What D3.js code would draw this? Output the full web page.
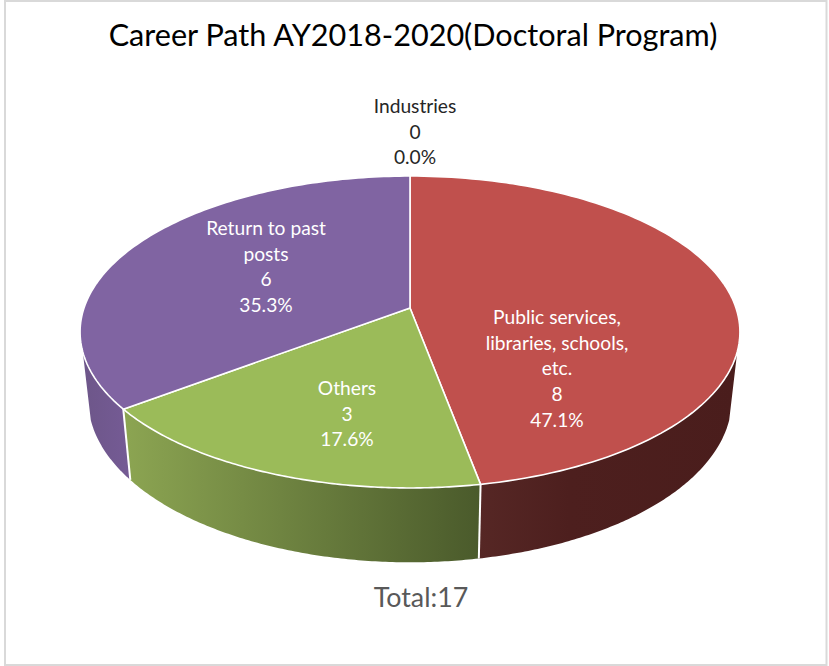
<!DOCTYPE html>
<html><head><meta charset="utf-8">
<script src="https://cdn.jsdelivr.net/npm/d3@7"></script>
<style>html,body{margin:0;padding:0;background:#fff}svg{display:block}text{font-family:Lato,Carlito,sans-serif}</style>
</head><body><div id="chart"></div>
<script>
const categories = ["Public services, libraries, schools, etc.", "Others", "Return to past posts", "Industries"];
const values = [8, 3, 6, 0];
const percents = ["47.1%", "17.6%", "35.3%", "0.0%"];
const labelLines = [["Public services,", "libraries, schools,", "etc."], ["Others"], ["Return to past", "posts"], ["Industries"]];
const topColors = ["#C0504D", "#9BBB59", "#8064A2", "#4F81BD"];
const titleText = "Career Path AY2018-2020(Doctoral Program)";
const totalText = "Total:17";

const W = 829, H = 666;
const labelAnchors = [[557, 318], [347, 389], [266, 229], [415, 107]];
const labelColors = ["#fff", "#fff", "#fff", "#262626"];
const wallStops = [
  [["0%", "#562725"], ["35%", "#4d1f1e"], ["100%", "#4a1d1c"]],
  [["0%", "#8ca552"], ["100%", "#4a5a2b"]],
  [["0%", "#6d5689"], ["100%", "#755b95"]],
  [["0%", "#4F81BD"], ["100%", "#4F81BD"]]
];

const svg = d3.select("#chart").append("svg").attr("width", W).attr("height", H);
svg.append("rect").attr("x", 5).attr("y", 1).attr("width", 821.5).attr("height", 664)
  .attr("fill", "#fff").attr("stroke", "#d9d9d9").attr("stroke-width", 2);

const arcs = d3.pie().sort(null).value(d => d).startAngle(0).endAngle(2 * Math.PI)(values);

// perspective projection of the unit disc on to the picture
const persp = -0.1538;
const cx = 410;
function proj(rimX, rimA, rimB) {
  return (r, t) => {
    const x = r * Math.sin(t), y = -r * Math.cos(t), w = 1 + persp * y;
    return [cx + rimX * x / w, (rimA * y + rimB) / w];
  };
}
const topP = proj(326, 104.9, 308);
const botP = proj(318, 101.5, 374.3);

const defs = svg.append("defs");
const visibleFrom = Math.PI / 2 + 0.28, visibleTo = 3 * Math.PI / 2 - 0.28;
const line = d3.line();
const samples = (a, b) => d3.range(0, 121).map(i => a + (b - a) * i / 120);

const wallG = svg.append("g");
arcs.forEach((d, i) => {
  const a = Math.max(d.startAngle, visibleFrom), b = Math.min(d.endAngle, visibleTo);
  if (b <= a) return;
  const ts = samples(a, b);
  const upper = ts.map(t => topP(1, t)), lower = ts.map(t => botP(1, t)).reverse();
  const pts = upper.concat(lower);
  const ex = d3.extent(pts, p => p[0]);
  const g = defs.append("linearGradient").attr("id", "wall" + i)
    .attr("gradientUnits", "userSpaceOnUse").attr("x1", ex[0]).attr("x2", ex[1]).attr("y1", 0).attr("y2", 0);
  wallStops[i].forEach(s => g.append("stop").attr("offset", s[0]).attr("stop-color", s[1]));
  wallG.append("path").attr("d", line(pts) + "Z").attr("fill", `url(#wall${i})`);
});
// white seams between walls
arcs.forEach(d => {
  if (d.value === 0 || d.endAngle <= visibleFrom || d.endAngle >= visibleTo) return;
  wallG.append("path").attr("d", line([topP(1, d.endAngle), botP(1, d.endAngle)]))
    .attr("stroke", "#fff").attr("stroke-width", 2).attr("fill", "none");
});

const faceG = svg.append("g");
arcs.forEach((d, i) => {
  if (d.value === 0) return;
  const pts = [topP(0, 0)].concat(samples(d.startAngle, d.endAngle).map(t => topP(1, t)));
  faceG.append("path").attr("d", line(pts) + "Z").attr("fill", topColors[i])
    .attr("stroke", "#fff").attr("stroke-width", 1.6).attr("stroke-linejoin", "round");
});

svg.append("text").attr("x", 413).attr("y", 46).attr("text-anchor", "middle")
  .attr("font-size", 30.6).attr("fill", "#000").text(titleText);
svg.append("text").attr("x", 421).attr("y", 607).attr("text-anchor", "middle")
  .attr("font-size", 26.8).attr("fill", "#595959").text(totalText);

const lh = 25.7;
categories.forEach((c, i) => {
  const lines = labelLines[i].concat([String(values[i]), percents[i]]);
  const t = svg.append("text").attr("text-anchor", "middle").attr("font-size", 19.2).attr("fill", labelColors[i]);
  lines.forEach((l, k) => t.append("tspan").attr("x", labelAnchors[i][0])
    .attr("y", labelAnchors[i][1] + k * lh + 6).text(l));
});
</script></body></html>
